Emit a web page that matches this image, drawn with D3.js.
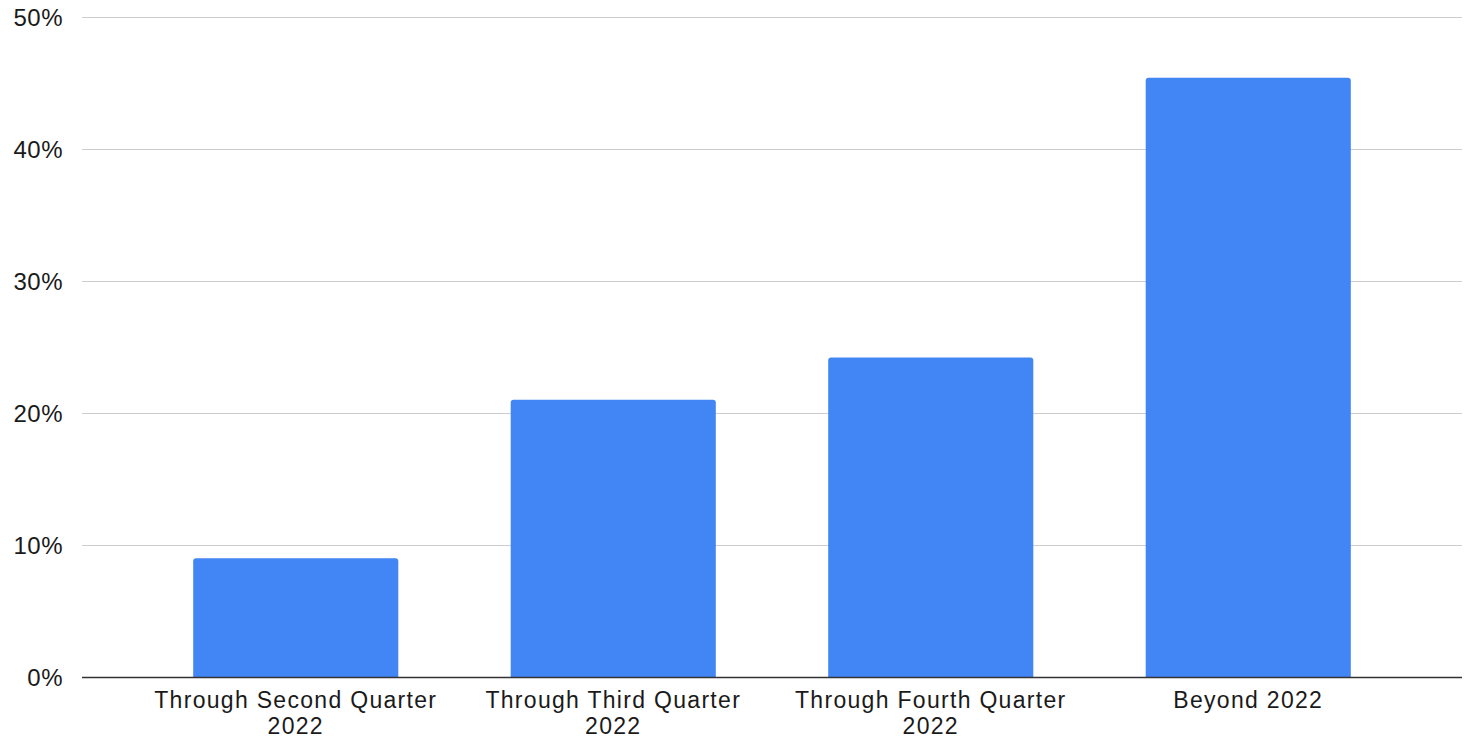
<!DOCTYPE html>
<html>
<head>
<meta charset="utf-8">
<script src="https://cdn.jsdelivr.net/npm/d3@7"></script>
<style>
  html, body { margin: 0; padding: 0; background: #fff; }
  svg { display: block; }
  text { font-family: "Liberation Sans", Arial, sans-serif; fill: #1a1a1a; }
</style>
</head>
<body>
<svg id="chart" width="1468" height="739"></svg>
<script>
// Share of respondents by expected timing
const categories = [
  ["Through Second Quarter", "2022"],
  ["Through Third Quarter", "2022"],
  ["Through Fourth Quarter", "2022"],
  ["Beyond 2022"]
];
const values = [9.0, 21.0, 24.2, 45.4];
const yTicks = [0, 10, 20, 30, 40, 50];

const svg = d3.select("#chart");
const gridLeft = 82, gridRight = 1462;
const yTop = 17, yBottom = 677;

const x = d3.scaleBand()
  .domain(d3.range(categories.length))
  .range([137, 1407])
  .paddingInner(0.354)
  .paddingOuter(0.177);

const y = d3.scaleLinear().domain([0, 50]).range([yBottom, yTop]);

// Horizontal gridlines
svg.append("g")
  .selectAll("line")
  .data(yTicks.filter(t => t > 0))
  .join("line")
  .attr("x1", gridLeft).attr("x2", gridRight)
  .attr("y1", d => y(d) + 0.5).attr("y2", d => y(d) + 0.5)
  .attr("stroke", "#cccccc").attr("stroke-width", 1.2);

// Y-axis labels
svg.append("g")
  .selectAll("text")
  .data(yTicks)
  .join("text")
  .attr("x", 63)
  .attr("y", d => y(d))
  .attr("dy", "0.36em")
  .attr("text-anchor", "end")
  .style("font-size", "24px")
  .style("letter-spacing", "0.5px")
  .text(d => d + "%");

// Bars with slightly rounded top corners
const r = 3;
svg.append("g")
  .selectAll("path")
  .data(values)
  .join("path")
  .attr("fill", "#4285f4")
  .attr("d", (d, i) => {
    const x0 = x(i), x1 = x(i) + x.bandwidth();
    const top = y(d), bot = y(0);
    return `M${x0},${bot}V${top + r}Q${x0},${top} ${x0 + r},${top}` +
           `H${x1 - r}Q${x1},${top} ${x1},${top + r}V${bot}Z`;
  });

// Baseline
svg.append("line")
  .attr("x1", gridLeft).attr("x2", gridRight)
  .attr("y1", y(0) + 0.5).attr("y2", y(0) + 0.5)
  .attr("stroke", "#333333").attr("stroke-width", 1.6);

// Category labels, one text per line so the lines never collide
const lineGap = 26;
svg.append("g")
  .selectAll("g")
  .data(categories)
  .join("g")
  .attr("transform", (d, i) => `translate(${x(i) + x.bandwidth() / 2},708)`)
  .selectAll("text")
  .data(d => d)
  .join("text")
  .attr("y", (d, i) => i * lineGap)
  .attr("text-anchor", "middle")
  .style("font-size", "23px")
  .style("letter-spacing", "1.3px")
  .text(d => d);
</script>
</body>
</html>
